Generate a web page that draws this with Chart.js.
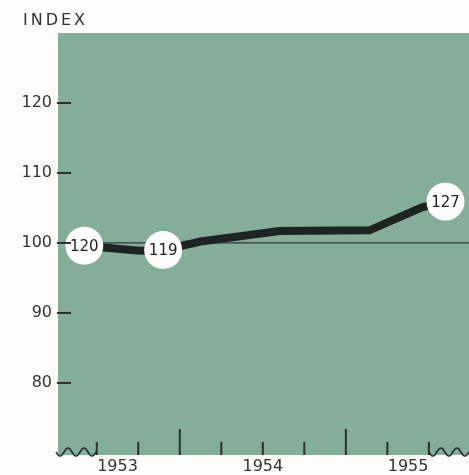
<!DOCTYPE html>
<html>
<head>
<meta charset="utf-8">
<script src="https://cdn.jsdelivr.net/npm/chart.js@4/dist/chart.umd.min.js"></script>
<style>
  html, body { margin: 0; padding: 0; background: #fdfdfb; }
  canvas { display: block; }
</style>
</head>
<body>
<canvas id="chart" width="469" height="475"></canvas>
<script>
// months counted from January 1954 (0 = start of 1954)
const months = [-6.9, -2.9, -1.2, 1.5, 7.2, 13.7, 17.5, 19.2]
const indexValues = [99.6, 98.9, 99.0, 100.2, 101.7, 101.8, 105.1, 105.9]

// circled markers: which point, and the figure printed inside
const markerPoints = [0, 2, 7]
const markerLabels = ['120', '119', '127']

const baseline = 100
const yTicks = [80, 90, 100, 110, 120]
const yearLabels = ['1953', '1954', '1955']
const yearPositions = [-4.5, 6, 16.5]
const quarterTicks = [-6, -3, 0, 3, 6, 9, 12, 15, 18]
const yearBreaks = [0, 12]

const green = '#83af9a'
const ink = '#2b2f2d'
const font = '"DejaVu Sans", sans-serif'

const decor = {
  id: 'decor',
  beforeDraw(chart) {
    const { ctx, chartArea: a } = chart
    ctx.save()
    ctx.fillStyle = green
    ctx.fillRect(a.left, a.top, a.right - a.left, a.bottom - a.top)
    ctx.restore()
  },
  afterDraw(chart) {
    const { ctx, chartArea: a, scales } = chart
    ctx.save()
    ctx.strokeStyle = ink
    ctx.lineWidth = 2

    // y tick dashes
    yTicks.forEach((v) => {
      const y = scales.y.getPixelForValue(v)
      ctx.beginPath()
      ctx.moveTo(a.left - 1, y)
      ctx.lineTo(a.left + 13, y)
      ctx.stroke()
    })

    // x tick marks along the bottom
    quarterTicks.forEach((m) => {
      const x = scales.x.getPixelForValue(m)
      const h = yearBreaks.includes(m) ? 26 : 13
      ctx.beginPath()
      ctx.moveTo(x, a.bottom)
      ctx.lineTo(x, a.bottom - h)
      ctx.stroke()
    })

    // break waves at both ends of the time axis
    const wave = (x0, x1) => {
      ctx.beginPath()
      for (let x = x0; x <= x1; x += 1) {
        const y = a.bottom - 3 + 4 * Math.sin(((x - x0) / 16) * Math.PI * 2)
        x === x0 ? ctx.moveTo(x, y) : ctx.lineTo(x, y)
      }
      ctx.stroke()
    }
    ctx.lineWidth = 1.6
    wave(a.left - 2, scales.x.getPixelForValue(-6))
    wave(scales.x.getPixelForValue(18), a.right)

    // marker figures
    const meta = chart.getDatasetMeta(0)
    ctx.fillStyle = '#222'
    ctx.font = '15px ' + font
    ctx.textAlign = 'center'
    ctx.textBaseline = 'middle'
    meta.data.forEach((pt, i) => {
      ctx.fillText(markerLabels[i], pt.x, pt.y + 1)
    })

    // axis title
    ctx.fillStyle = '#333'
    ctx.font = '16px ' + font
    ctx.textAlign = 'left'
    ctx.textBaseline = 'alphabetic'
    ctx.letterSpacing = '3px'
    ctx.fillText('INDEX', 23, 25)
    ctx.restore()
  },
}

new Chart(document.getElementById('chart'), {
  type: 'line',
  data: {
    datasets: [
      {
        data: markerPoints.map((i) => ({ x: months[i], y: indexValues[i] })),
        showLine: false,
        pointRadius: 19,
        pointBackgroundColor: '#ffffff',
        pointBorderWidth: 0,
        order: 0,
      },
      {
        data: months.map((m, i) => ({ x: m, y: indexValues[i] })),
        borderColor: '#1e2421',
        borderWidth: 8,
        pointRadius: 0,
        tension: 0,
        order: 1,
      },
      {
        data: [
          { x: -8.8, y: baseline },
          { x: 20.9, y: baseline },
        ],
        borderColor: '#2a3832',
        borderWidth: 1.3,
        pointRadius: 0,
        order: 2,
      },
    ],
  },
  options: {
    responsive: false,
    animation: false,
    layout: { autoPadding: false, padding: { top: 33, left: 0, right: 0, bottom: 0 } },
    plugins: { legend: { display: false }, tooltip: { enabled: false } },
    scales: {
      x: {
        type: 'linear',
        min: -8.8,
        max: 20.9,
        border: { display: false },
        grid: { display: false, drawTicks: false },
        afterBuildTicks: (s) => {
          s.ticks = yearPositions.map((v) => ({ value: v }))
        },
        afterFit: (s) => {
          s.height = 20
          s.paddingLeft = 0
          s.paddingRight = 0
        },
        ticks: {
          autoSkip: false,
          maxRotation: 0,
          padding: 2,
          color: '#333',
          font: { family: font, size: 16 },
          callback: (v, i) => yearLabels[i],
        },
      },
      y: {
        min: 69.7,
        max: 130,
        border: { display: false },
        grid: { display: false, drawTicks: false },
        afterBuildTicks: (s) => {
          s.ticks = yTicks.map((v) => ({ value: v }))
        },
        afterFit: (s) => {
          s.width = 58
          s.paddingTop = 0
          s.paddingBottom = 0
        },
        ticks: {
          padding: 6,
          color: '#333',
          font: { family: font, size: 16 },
        },
      },
    },
  },
  plugins: [decor],
})
</script>
</body>
</html>
